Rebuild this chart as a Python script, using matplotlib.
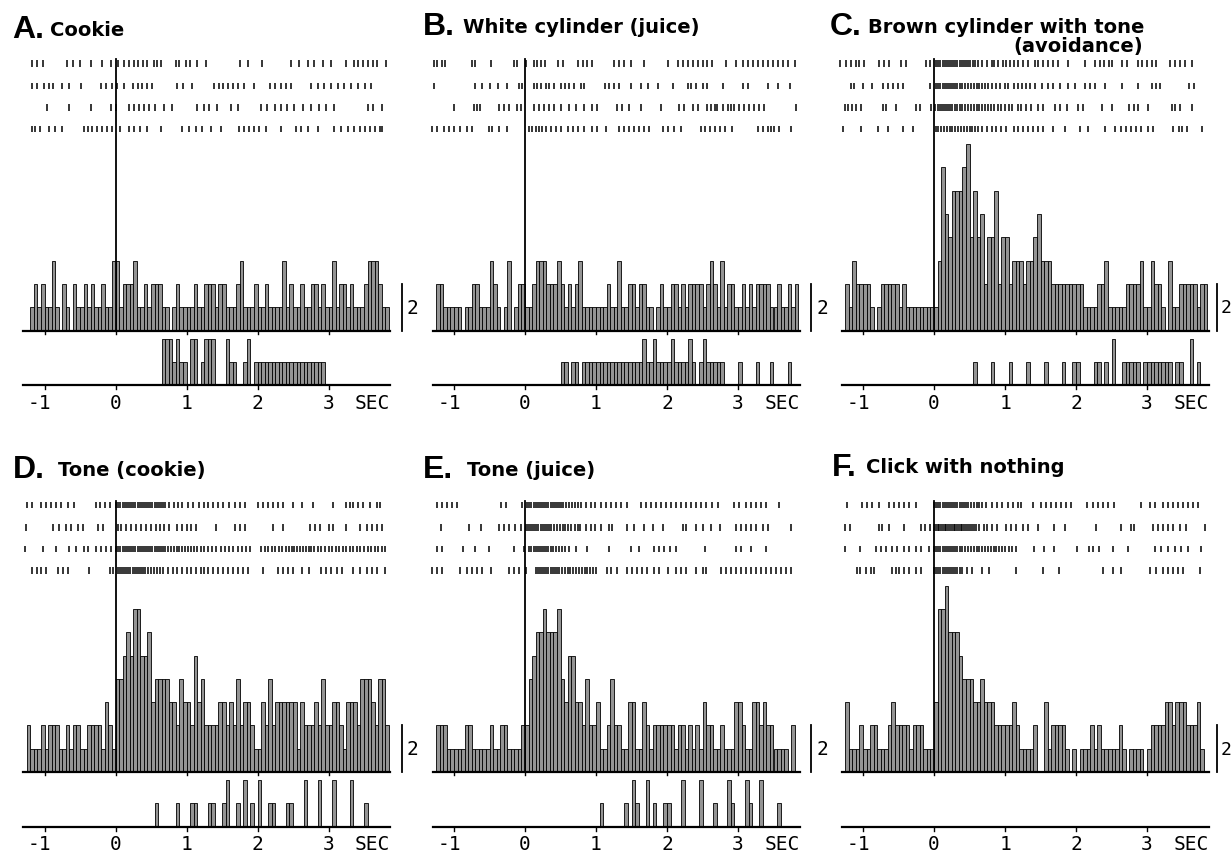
import numpy as np
import matplotlib
matplotlib.use("Agg")
import matplotlib.pyplot as plt

# histogram bins: 50 ms, first bin starts at -1.25 s
bin_start = -1.25
bin_width = 0.05

letters = ["A.", "B.", "C.", "D.", "E.", "F."]
titles = ["Cookie", "White cylinder (juice)", "Brown cylinder with tone",
          "Tone (cookie)", "Tone (juice)", "Click with nothing"]

# neuron PSTH counts per bin
hist_a = [0,1,2,1,2,1,1,3,1,0, 2,1,0,2,1,1,2,1,2,1, 1,2,1,1,3,3,1,2,2,2,
          3,1,1,2,1,2,2,2,1,1, 0,1,2,1,1,1,1,2,1,1, 2,2,2,1,2,2,1,1,1,2,
          3,1,1,1,2,1,1,2,1,1, 1,1,3,1,2,1,1,2,1,1, 2,2,1,2,1,1,3,1,2,2,
          1,2,1,1,1,2,3,3,3,2, 1,1]
hist_b = [2,2,1,1,1,1,1,0,1,1, 2,2,1,1,1,3,2,1,0,1, 3,0,1,2,2,1,1,2,3,3,
          3,2,2,2,3,2,1,2,1,2, 3,1,1,1,1,1,1,1,2,1, 1,3,1,1,2,2,1,2,2,1,
          1,0,1,2,1,1,2,2,1,2, 1,2,2,2,2,1,2,3,2,1, 3,1,2,2,1,1,2,1,2,1,
          2,2,2,2,1,1,2,1,1,2, 1,2]
hist_c = [2,1,3,2,2,2,2,1,0,1, 2,2,2,2,2,1,2,1,1,1, 1,1,1,1,1,1,3,7,5,4,
          6,6,6,7,8,4,6,4,5,2, 4,4,6,2,4,4,2,3,3,3, 2,3,3,4,5,3,3,3,2,2,
          2,2,2,2,2,2,2,1,1,1, 1,2,2,3,1,1,1,1,1,2, 2,2,2,3,1,1,3,2,2,1,
          0,3,1,1,2,2,2,2,2,1, 2,2]
hist_d = [2,1,1,1,2,1,2,2,2,1, 1,2,1,2,2,1,1,2,2,2, 2,1,3,2,1,4,4,5,6,5,
          7,7,5,5,6,3,4,4,4,4, 3,3,2,4,3,3,2,5,3,4, 2,2,2,2,3,3,2,3,2,4,
          2,3,3,2,1,1,3,2,4,2, 3,3,3,3,3,3,1,3,2,2, 2,3,2,4,2,2,3,3,2,1,
          3,3,3,2,4,4,4,3,2,4, 4,2]
hist_e = [2,2,2,1,1,1,1,1,2,2, 1,1,1,1,1,2,1,1,2,2, 1,1,1,1,2,2,4,5,6,6,
          7,6,6,6,7,4,3,5,5,3, 3,2,4,2,2,3,1,1,2,4, 2,2,1,1,3,3,1,1,3,2,
          1,2,2,2,2,2,2,1,2,2, 1,2,1,2,1,3,2,2,1,1, 2,1,1,1,3,3,2,1,1,3,
          3,2,3,2,2,1,1,1,1,0, 2,0]
hist_f = [3,1,1,1,2,1,1,2,2,1, 1,1,2,3,2,2,2,2,1,2, 2,2,1,1,1,3,7,7,8,6,
          6,6,5,4,4,4,3,3,4,3, 3,3,2,2,2,2,2,3,2,1, 1,1,1,2,0,0,3,1,2,2,
          2,2,1,0,1,0,1,1,1,2, 1,2,1,1,1,1,1,2,1,0, 1,1,1,1,0,1,2,2,2,2,
          3,3,2,3,3,3,2,2,2,3, 1,0]

# behavioural response counts (lower histograms); F has none
beh_a = [0]*30 + [0,0,0,0,0,0,0,0,2,2, 2,1,2,1,1,0,2,2,0,1, 2,2,2,0,0,0,2,1,1,0,
                  0,1,2,0,1,1,1,1,1,1, 1,1,1,1,1,1,1,1,1,1, 1,1,1,1,0,0,0,0,0,0] + [0]*12
beh_b = [0]*30 + [0,0,0,0,0,1,1,0,1,1, 0,1,1,1,1,1,1,1,1,1, 1,1,1,1,1,1,1,1,2,1,
                  1,2,1,1,1,1,2,1,1,1, 1,2,1,0,1,2,1,1,1,1, 1,0,0,0,0,1,0,0,0,0,
                  1,0,0,0,1,0,0,0,0,1, 0,0]
beh_c = [0]*30 + [0,0,0,0,0,0,1,0,0,0, 0,1,0,0,0,0,1,0,0,0, 0,1,0,0,0,0,1,0,0,0,
                  0,1,0,0,1,1,0,0,0,0, 1,1,0,1,0,2,0,0,1,1, 1,1,1,0,1,1,1,1,1,1,
                  1,1,0,1,1,0,0,2,0,1, 0,0]
beh_d = [0]*30 + [0,0,0,0,0,0,1,0,0,0, 0,0,1,0,0,0,1,1,0,0, 0,1,1,0,0,1,2,0,0,1,
                  0,2,0,1,0,2,0,0,1,1, 0,0,0,1,1,0,0,0,2,0, 0,0,2,0,0,0,2,0,0,0,
                  0,2,0,0,0,1,0,0,0,0, 0,0]
beh_e = [0]*40 + [0,0,0,0,0,0,1,0,0,0, 0,0,0,1,0,2,1,0,0,2, 0,1,0,0,1,1,0,0,0,2,
                  0,0,0,0,2,0,0,0,1,0, 0,0,2,1,0,0,0,2,1,0, 0,2,0,0,0,0,1,0,0,0,
                  0,0]
beh_f = []

# spike rasters, 4 trials each, times in s
raster_a = [
    [-1.18,-1.10,-1.02,-0.68,-0.60,-0.50,-0.35,-0.19,-0.07,0.03,0.12,0.19,0.26,0.32,0.39,0.45,0.54,0.59,0.64,
     0.85,0.90,0.99,1.05,1.15,1.27,1.76,1.86,2.07,2.47,2.59,2.71,2.80,2.92,3.04,3.25,3.36,3.42,3.48,3.55,3.62,3.69,3.81],
    [-1.18,-1.11,-1.01,-0.94,-0.88,-0.75,-0.66,-0.49,-0.21,-0.13,-0.05,0.02,0.12,0.24,0.31,0.38,0.45,0.52,0.87,0.95,
     1.08,1.39,1.46,1.52,1.58,1.65,1.72,1.81,1.95,2.18,2.24,2.33,2.40,2.47,2.75,2.85,2.94,3.04,3.13,3.22,3.32,3.41,3.51,3.60],
    [-0.96,-0.66,-0.35,-0.07,0.00,0.19,0.26,0.33,0.40,0.47,0.56,0.68,0.80,1.15,1.25,1.32,1.43,1.62,1.72,2.05,2.14,
     2.24,2.33,2.42,2.52,2.64,2.75,2.87,2.96,3.08,3.55,3.62,3.76],
    [-1.18,-1.13,-1.06,-0.94,-0.85,-0.75,-0.45,-0.39,-0.33,-0.26,-0.19,-0.12,-0.05,0.07,0.19,0.26,0.35,0.45,0.64,0.94,
     1.04,1.13,1.22,1.34,1.48,1.74,1.81,1.88,1.95,2.02,2.12,2.33,2.54,2.61,2.71,2.85,3.08,3.18,3.27,3.36,3.44,3.51,3.58,3.65,3.72,3.76],
]
raster_b = [
    [-1.28,-1.24,-1.17,-1.12,-0.74,-0.70,-0.48,-0.16,-0.11,0.01,0.12,0.17,0.22,0.28,0.46,0.53,0.74,0.81,0.88,0.95,
     1.26,1.33,1.40,1.49,1.68,2.01,2.15,2.22,2.29,2.36,2.43,2.50,2.57,2.64,2.83,2.97,3.07,3.14,3.21,3.28,3.35,3.42,
     3.49,3.56,3.63,3.70,3.80],
    [-1.28,-0.70,-0.60,-0.49,-0.38,-0.25,-0.08,-0.04,0.13,0.17,0.23,0.29,0.34,0.41,0.50,0.56,0.62,0.69,0.79,0.83,
     1.12,1.19,1.26,1.33,1.49,1.63,1.73,1.87,2.08,2.29,2.34,2.41,2.50,2.57,2.79,3.07,3.14,3.42,3.56,3.73],
    [-1.00,-0.72,-0.67,-0.63,-0.37,-0.30,-0.23,-0.11,-0.06,0.13,0.20,0.27,0.34,0.41,0.50,0.62,0.72,0.83,0.95,1.02,
     1.30,1.37,1.47,1.63,1.92,2.17,2.24,2.36,2.43,2.57,2.62,2.67,2.71,2.79,2.86,2.90,2.95,3.02,3.09,3.16,3.23,3.30,3.37,3.82],
    [-1.31,-1.24,-1.14,-1.07,-1.00,-0.91,-0.82,-0.74,-0.51,-0.46,-0.37,-0.25,0.06,0.10,0.15,0.20,0.24,0.29,0.36,0.43,
     0.50,0.60,0.67,0.74,0.83,0.95,1.02,1.14,1.33,1.40,1.47,1.54,1.61,1.68,1.75,1.94,2.01,2.10,2.20,2.48,2.53,2.60,
     2.67,2.74,2.81,2.91,3.28,3.35,3.42,3.47,3.51,3.58,3.75],
]
raster_c = [
    [-1.33,-1.24,-1.17,-1.10,-1.05,-0.98,-0.77,-0.70,-0.63,-0.46,-0.39,-0.11,-0.06,
     0.03,0.06,0.09,0.12,0.15,0.18,0.21,0.24,0.27,0.30,0.33,0.36,0.39,0.42,0.45,0.48,0.51,0.55,0.58,0.62,
     0.67,0.74,0.81,0.85,0.90,0.97,1.02,1.07,1.13,1.18,1.26,1.33,1.42,1.47,1.54,1.61,1.68,1.75,1.89,2.13,2.27,
     2.34,2.39,2.46,2.50,2.65,2.72,2.88,2.93,3.00,3.07,3.12,3.33,3.40,3.47,3.54,3.63],
    [-1.17,-1.12,-1.00,-0.88,-0.72,-0.65,-0.58,-0.51,-0.44,-0.06,
     0.03,0.06,0.09,0.12,0.15,0.18,0.21,0.24,0.27,0.30,0.33,0.36,0.40,0.44,0.48,0.52,0.56,0.60,0.64,0.68,0.72,0.76,
     0.81,0.88,0.93,1.00,1.04,1.12,1.19,1.24,1.29,1.35,1.42,1.52,1.61,1.68,1.77,1.89,1.99,2.13,2.20,2.27,2.41,
     2.65,2.88,3.07,3.12,3.19,3.59,3.66],
    [-1.26,-1.21,-1.16,-1.10,-1.03,-0.72,-0.67,-0.53,-0.25,-0.20,-0.04,
     0.02,0.05,0.08,0.11,0.14,0.17,0.20,0.23,0.26,0.29,0.32,0.36,0.40,0.44,0.48,0.52,0.56,0.60,0.64,0.68,0.72,
     0.76,0.80,0.85,0.90,0.95,1.00,1.05,1.10,
     1.19,1.23,1.30,1.37,1.47,1.54,1.70,1.77,1.87,2.03,2.10,2.36,2.50,2.74,2.81,2.88,3.02,3.35,3.40,3.47,3.63],
    [-1.28,-1.03,-0.79,-0.65,-0.44,-0.30,0.03,
     0.06,0.10,0.14,0.18,0.22,0.26,0.30,0.34,0.38,0.42,0.46,0.50,0.54,0.58,0.62,0.67,
     0.74,0.81,0.88,0.95,1.02,1.12,1.19,1.26,1.33,1.40,1.47,1.54,1.68,1.84,2.05,2.17,2.41,2.55,2.64,2.71,2.78,
     2.85,2.92,3.02,3.09,3.37,3.45,3.49,3.56,3.77],
]
raster_d = [
    [-1.24,-1.17,-1.05,-0.98,-0.91,-0.84,-0.77,-0.67,-0.58,-0.27,-0.22,-0.15,-0.08,
     0.01,0.04,0.07,0.10,0.13,0.16,0.19,0.22,0.25,0.28,0.31,0.34,0.37,0.40,0.43,0.46,0.49,0.52,0.55,0.58,0.61,
     0.64,0.67,0.70,
     0.76,0.83,0.88,0.94,1.02,1.09,1.18,1.24,1.30,1.37,1.44,1.51,1.60,1.68,1.75,1.82,2.01,2.08,2.15,2.22,2.29,
     2.36,2.50,2.62,2.78,3.07,3.25,3.30,3.35,3.42,3.49,3.58,3.68,3.72],
    [-1.26,-0.88,-0.79,-0.70,-0.63,-0.53,-0.46,-0.25,-0.18,0.03,0.08,0.15,0.22,0.29,0.36,0.43,0.50,0.57,0.62,0.69,
     0.76,0.86,0.93,1.00,1.07,1.14,1.42,1.68,1.75,1.82,2.22,2.36,2.74,2.81,2.88,3.00,3.07,3.25,3.44,3.54,3.61,3.68,3.75],
    [-1.28,-1.02,-0.84,-0.65,-0.55,-0.44,-0.39,-0.27,-0.20,-0.13,-0.06,
     0.01,0.04,0.07,0.10,0.13,0.16,0.19,0.22,0.25,0.28,0.31,0.34,0.37,0.40,0.43,0.46,0.49,0.52,0.55,0.58,0.61,
     0.64,0.67,0.70,0.74,0.78,0.82,0.86,0.90,0.94,0.98,1.02,1.06,1.10,1.15,1.20,1.25,1.30,1.36,1.42,1.48,1.54,
     1.60,1.66,1.72,1.78,1.84,1.90,2.05,2.10,2.15,2.20,2.25,2.30,2.35,2.40,2.44,2.48,2.52,2.56,2.60,2.64,2.68,
     2.72,2.76,2.80,2.85,2.90,2.95,3.00,3.05,3.10,3.15,3.20,3.25,3.30,3.35,3.40,3.45,3.50,3.55,3.60,3.65,3.70,
     3.75,3.80],
    [-1.17,-1.10,-1.05,-0.98,-0.81,-0.74,-0.67,-0.37,-0.08,-0.04,
     0.03,0.06,0.09,0.12,0.15,0.18,0.21,0.24,0.27,0.30,0.33,0.36,0.39,0.42,0.46,0.50,0.54,0.58,0.62,
     0.67,0.74,0.81,0.86,0.93,1.00,1.07,1.14,1.21,1.25,1.30,1.37,1.44,1.51,1.58,1.65,1.72,1.79,1.87,2.08,2.29,
     2.36,2.43,2.50,2.62,2.72,2.90,2.97,3.04,3.12,3.19,3.35,3.44,3.54,3.61,3.68,3.80],
]
raster_e = [
    [-1.24,-1.17,-1.10,-1.03,-0.96,-0.34,-0.27,-0.04,
     0.03,0.06,0.09,0.12,0.15,0.18,0.21,0.24,0.27,0.30,0.33,0.36,0.39,0.42,0.45,0.48,0.51,0.54,0.58,0.62,0.66,
     0.70,0.74,0.79,
     0.86,0.93,0.99,1.07,1.14,1.21,1.28,1.35,1.44,1.63,1.70,1.77,1.84,1.91,1.98,2.06,2.13,2.20,2.27,2.34,2.41,
     2.48,2.55,2.64,2.72,2.95,3.02,3.11,3.18,3.25,3.32,3.39,3.58],
    [-1.19,-0.79,-0.62,-0.37,-0.30,-0.22,-0.14,-0.06,0.01,
     0.04,0.07,0.10,0.13,0.16,0.19,0.22,0.25,0.28,0.31,0.34,0.37,0.41,0.45,0.49,0.53,0.57,0.61,0.65,0.70,0.74,0.78,
     0.86,0.93,0.99,1.07,1.19,1.23,1.44,1.54,1.68,1.80,1.94,2.22,2.27,2.41,2.50,2.62,2.74,2.97,3.04,3.11,3.18,
     3.25,3.35,3.42,3.75],
    [-1.24,-1.17,-0.88,-0.70,-0.51,-0.16,-0.01,
     0.06,0.09,0.12,0.15,0.18,0.21,0.24,0.27,0.30,0.33,0.36,0.40,0.44,0.48,0.52,0.57,0.62,
     0.72,0.88,1.19,1.49,1.61,1.82,1.89,1.96,2.04,2.13,2.53,2.97,3.04,3.19,3.40],
    [-1.31,-1.24,-1.17,-0.91,-0.81,-0.74,-0.67,-0.60,-0.48,-0.22,-0.15,-0.08,0.01,
     0.15,0.18,0.21,0.24,0.27,0.30,0.33,0.36,0.39,0.42,0.45,0.48,0.52,0.56,0.60,0.64,0.68,0.72,0.76,0.80,0.84,
     0.88,0.92,0.96,1.00,
     1.16,1.21,1.30,1.44,1.51,1.58,1.65,1.72,1.82,1.89,2.01,2.13,2.20,2.27,2.41,2.50,2.55,2.76,2.83,2.90,2.97,
     3.04,3.11,3.18,3.25,3.32,3.40,3.47,3.54,3.61,3.68,3.75],
]
raster_f = [
    [-1.22,-1.01,-0.94,-0.87,-0.78,-0.64,-0.56,-0.49,-0.42,-0.35,-0.26,
     0.00,0.03,0.06,0.09,0.12,0.15,0.18,0.21,0.24,0.27,0.30,0.33,0.36,0.39,0.42,0.45,0.48,0.52,0.56,0.60,0.64,0.68,
     0.73,0.82,0.89,0.96,1.04,1.11,1.18,1.22,1.39,1.51,1.58,1.65,1.72,1.79,1.86,1.93,2.16,2.24,2.31,2.38,2.45,
     2.54,2.92,3.04,3.11,3.22,3.29,3.36,3.44,3.51,3.58,3.65,3.72],
    [-1.25,-1.18,-0.78,-0.73,-0.64,-0.42,-0.19,-0.12,-0.05,
     0.00,0.025,0.05,0.075,0.10,0.125,0.15,0.175,0.20,0.225,0.25,0.275,0.30,0.325,0.35,0.375,0.40,0.425,0.45,
     0.48,0.51,0.54,0.57,0.59,
     0.64,0.71,0.75,0.82,0.89,1.01,1.08,1.15,1.25,1.32,1.46,1.69,1.84,2.28,2.64,2.78,2.82,3.08,3.15,3.22,3.29,
     3.36,3.46,3.55,3.81],
    [-1.25,-1.04,-0.82,-0.75,-0.68,-0.59,-0.52,-0.42,-0.35,-0.26,-0.19,-0.07,
     0.00,0.03,0.06,0.09,0.12,0.15,0.18,0.21,0.24,0.27,0.30,0.33,0.36,0.40,0.44,0.48,0.52,0.56,0.60,0.64,0.68,
     0.72,0.76,0.80,0.84,0.88,0.92,0.96,1.00,1.05,1.10,1.15,
     1.41,1.55,1.69,2.02,2.19,2.24,2.33,2.52,2.73,3.11,3.20,3.29,3.39,3.48,3.58,3.76],
    [-1.08,-1.04,-0.96,-0.89,-0.85,-0.59,-0.54,-0.49,-0.42,-0.35,-0.26,-0.19,
     0.00,0.03,0.06,0.09,0.12,0.15,0.18,0.21,0.24,0.27,0.30,0.33,0.36,0.40,
     0.47,0.54,0.68,0.78,1.15,1.53,1.76,2.38,2.52,2.64,3.04,3.13,3.22,3.29,3.36,3.44,3.51,3.74],
]

hists = [hist_a, hist_b, hist_c, hist_d, hist_e, hist_f]
behs = [beh_a, beh_b, beh_c, beh_d, beh_e, beh_f]
rasters = [raster_a, raster_b, raster_c, raster_d, raster_e, raster_f]

# page layout (pixels)
W, H = 1232, 854
px_sec = 71.0
px_cnt = 23.3
col_zero = [115.5, 525.0, 934.0]
row_base = [331.5, 773.0]
xmin, xmax = -1.4, 3.95
ymin, ymax = -3.4, 12.2
beh_base = -2.35
row_y = [11.45, 10.5, 9.58, 8.65]

# title placement: letter x, baseline y, title x, title baseline
title_pos = [(12, 38, 50, 36), (423, 35, 463, 33), (830, 35, 868, 33),
             (13, 478, 58, 476), (423, 478, 467, 476), (832, 476, 866, 473)]

fig = plt.figure(figsize=(W / 100, H / 100), dpi=100)
mono = "DejaVu Sans Mono"
bar_face = "0.58"

for k in range(6):
    c, r = k % 3, k // 3
    left = (col_zero[c] + xmin * px_sec) / W
    bottom = 1 - (row_base[r] - ymin * px_cnt) / H
    ax = fig.add_axes([left, bottom, (xmax - xmin) * px_sec / W, (ymax - ymin) * px_cnt / H])
    ax.set_xlim(xmin, xmax)
    ax.set_ylim(ymin, ymax)
    ax.axis("off")

    h = np.array(hists[k])
    x = bin_start + bin_width * np.arange(len(h))
    m = h > 0
    ax.bar(x[m], h[m], width=bin_width, align="edge", color=bar_face,
           edgecolor="black", linewidth=0.6, clip_on=False)

    b = np.array(behs[k])
    if len(b):
        xb = bin_start + bin_width * np.arange(len(b))
        mb = b > 0
        ax.bar(xb[mb], b[mb], width=bin_width, bottom=beh_base, align="edge",
               color=bar_face, edgecolor="black", linewidth=0.6, clip_on=False)

    for yy, spikes in zip(row_y, rasters[k]):
        ax.vlines(spikes, yy - 0.14, yy + 0.14, color="black", linewidth=1.1)

    ax.plot([0, 0], [0, 11.65], color="black", lw=1.3)
    ax.plot([-1.3, 3.87], [0, 0], color="black", lw=1.6)
    ax.plot([-1.3, 3.87], [beh_base, beh_base], color="black", lw=1.6)
    for t in range(-1, 4):
        ax.plot([t, t], [0, -0.15], color="black", lw=1.0)
        ax.plot([t, t], [beh_base, beh_base - 0.18], color="black", lw=1.0)
        lx = t - 0.07 if t < 0 else t
        ax.text(lx, -3.07, str(t), ha="center", va="center", fontsize=14, family=mono)
    ax.text(3.62, -3.07, "SEC", ha="center", va="center", fontsize=14, family=mono)

    # 2-count scale bar; the right column is kept inside the page
    if c < 2:
        ax.plot([4.03, 4.03], [0, 2], color="black", lw=1.3, clip_on=False)
        ax.text(4.1, 1.0, "2", ha="left", va="center", fontsize=14, family=mono, clip_on=False)
    else:
        ax.plot([3.99, 3.99], [0, 2], color="black", lw=1.3, clip_on=False)
        ax.text((1231 - col_zero[c]) / px_sec, 1.0, "2", ha="right", va="center",
                fontsize=13, family=mono, clip_on=False)

    lxp, lyp, txp, typ = title_pos[k]
    fig.text(lxp / W, 1 - lyp / H, letters[k], fontsize=23, fontweight="bold",
             family="Liberation Sans", va="baseline")
    fig.text(txp / W, 1 - typ / H, titles[k], fontsize=14, fontweight="bold",
             family="DejaVu Sans", va="baseline")

fig.text(1013 / W, 1 - 52 / H, "(avoidance)", fontsize=14, fontweight="bold",
         family="DejaVu Sans", va="baseline")

fig.savefig("out.png", dpi=100)
